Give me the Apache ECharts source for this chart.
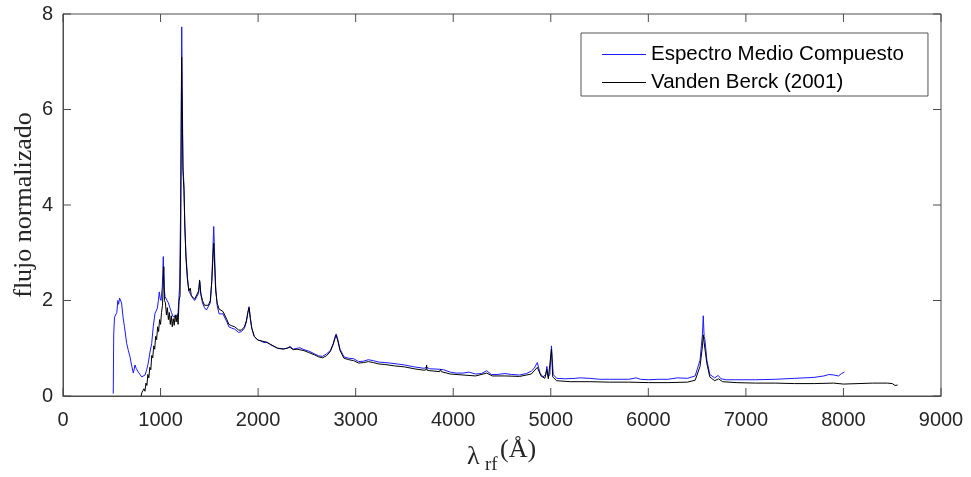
<!DOCTYPE html>
<html>
<head>
<meta charset="utf-8">
<script src="https://cdn.jsdelivr.net/npm/echarts@6/dist/echarts.min.js"></script>
<style>
  html, body { margin: 0; padding: 0; background: #fff; }
  #chart { width: 971px; height: 477px; }
</style>
</head>
<body>
<div id="chart"></div>
<script>
// Espectro Medio Compuesto (blue)
const lambdaEsp = [515, 520, 528, 540, 552, 562, 570, 580, 592, 600, 615, 630, 653, 670, 687, 705, 721, 730, 738, 750,
  769, 790, 807, 825, 841, 858, 874, 890, 909, 925, 943, 955, 967, 978, 987, 995, 1005, 1018, 1028, 1036,
  1046, 1055, 1063, 1080, 1097, 1112, 1128, 1145, 1165, 1180, 1195, 1205, 1212, 1217, 1222, 1230, 1240, 1248, 1260, 1275,
  1290, 1305, 1315, 1330, 1350, 1370, 1390, 1402, 1415, 1430, 1450, 1470, 1490, 1510, 1525, 1535, 1545, 1555, 1565, 1580,
  1600, 1620, 1640, 1660, 1680, 1700, 1730, 1760, 1800, 1830, 1860, 1880, 1895, 1907, 1920, 1935, 1960, 1990, 2020, 2060,
  2090, 2130, 2200, 2260, 2300, 2326, 2360, 2400, 2430, 2470, 2520, 2580, 2620, 2660, 2700, 2740, 2770, 2790, 2800, 2815,
  2840, 2880, 2930, 2980, 3030, 3080, 3130, 3180, 3240, 3300, 3350, 3430, 3500, 3600, 3700, 3727, 3760, 3860, 3869, 3900,
  3970, 4030, 4100, 4160, 4230, 4290, 4343, 4390, 4450, 4530, 4600, 4680, 4750, 4800, 4830, 4862, 4890, 4920, 4950, 4960,
  4975, 4990, 5007, 5025, 5060, 5150, 5250, 5300, 5400, 5500, 5600, 5700, 5800, 5876, 5920, 6000, 6100, 6200, 6300, 6320,
  6400, 6480, 6530, 6555, 6563, 6572, 6580, 6600, 6630, 6680, 6716, 6731, 6745, 6800, 6950, 7100, 7300, 7500, 7700, 7800,
  7850, 7900, 7950, 7980, 8010];
const fluxEsp = [0.05, 1.30, 1.65, 1.62, 1.75, 2.00, 1.92, 2.05, 2.08, 1.95, 1.66, 1.45, 1.10, 0.95, 0.82, 0.62, 0.48, 0.52, 0.65, 0.58,
  0.51, 0.45, 0.40, 0.42, 0.44, 0.55, 0.69, 0.90, 1.10, 1.45, 1.73, 1.78, 1.84, 2.00, 2.18, 2.05, 2.00, 2.30, 2.92, 2.30,
  2.08, 2.04, 2.05, 1.95, 1.84, 1.75, 1.66, 1.62, 1.66, 1.75, 2.30, 3.80, 6.00, 7.73, 6.50, 4.80, 4.42, 3.60, 3.00, 2.50,
  2.20, 2.18, 2.10, 2.05, 2.00, 1.98, 2.15, 2.40, 2.10, 1.95, 1.85, 1.80, 1.82, 1.95, 2.40, 3.00, 3.55, 2.90, 2.30, 1.90,
  1.72, 1.68, 1.72, 1.70, 1.55, 1.45, 1.42, 1.40, 1.33, 1.35, 1.42, 1.55, 1.75, 1.87, 1.65, 1.42, 1.25, 1.18, 1.16, 1.12,
  1.13, 1.07, 1.00, 0.99, 1.00, 1.04, 0.98, 1.00, 1.01, 0.97, 0.94, 0.88, 0.84, 0.83, 0.88, 0.95, 1.10, 1.25, 1.30, 1.20,
  0.98, 0.82, 0.79, 0.78, 0.72, 0.73, 0.76, 0.74, 0.71, 0.70, 0.69, 0.67, 0.65, 0.61, 0.58, 0.60, 0.57, 0.56, 0.58, 0.55,
  0.50, 0.48, 0.48, 0.50, 0.46, 0.47, 0.53, 0.45, 0.45, 0.47, 0.45, 0.44, 0.47, 0.52, 0.58, 0.70, 0.48, 0.40, 0.45, 0.62,
  0.40, 0.45, 1.05, 0.45, 0.37, 0.36, 0.37, 0.38, 0.37, 0.35, 0.35, 0.35, 0.35, 0.38, 0.35, 0.34, 0.35, 0.35, 0.38, 0.35,
  0.37, 0.42, 0.75, 1.30, 1.68, 1.25, 1.18, 0.75, 0.45, 0.38, 0.43, 0.45, 0.36, 0.34, 0.34, 0.34, 0.35, 0.37, 0.39, 0.42,
  0.45, 0.44, 0.42, 0.47, 0.50];

// Vanden Berck (2001) (black)
const lambdaVB = [800, 810, 820, 830, 840, 850, 860, 870, 880, 890, 900, 910, 920, 930, 940, 950, 960, 970, 980, 990,
  1000, 1010, 1020, 1025, 1033, 1040, 1050, 1060, 1070, 1080, 1090, 1100, 1110, 1120, 1130, 1140, 1150, 1160, 1170, 1180,
  1190, 1200, 1207, 1212, 1216, 1220, 1230, 1240, 1250, 1260, 1275, 1290, 1305, 1315, 1330, 1350, 1370, 1390, 1400, 1412,
  1430, 1450, 1470, 1490, 1510, 1525, 1535, 1545, 1555, 1565, 1580, 1600, 1620, 1640, 1660, 1680, 1700, 1730, 1760, 1800,
  1830, 1860, 1880, 1895, 1907, 1920, 1935, 1960, 2000, 2040, 2080, 2130, 2200, 2260, 2326, 2360, 2400, 2470, 2520, 2580,
  2620, 2660, 2700, 2740, 2770, 2790, 2800, 2815, 2840, 2880, 2930, 2980, 3030, 3080, 3130, 3180, 3240, 3300, 3400, 3500,
  3600, 3700, 3722, 3727, 3732, 3760, 3860, 3869, 3878, 3970, 4100, 4230, 4343, 4400, 4530, 4680, 4800, 4862, 4900, 4940,
  4959, 4975, 4995, 5007, 5020, 5060, 5200, 5400, 5600, 5800, 6000, 6200, 6400, 6480, 6530, 6555, 6563, 6572, 6583, 6600,
  6630, 6680, 6720, 6760, 6900, 7100, 7300, 7500, 7700, 7900, 8000, 8150, 8300, 8450, 8500, 8530, 8555];
const fluxVB = [0.00, 0.08, 0.04, 0.15, 0.10, 0.27, 0.22, 0.45, 0.38, 0.60, 0.55, 0.85, 0.80, 1.05, 0.98, 1.25, 1.18, 1.45, 1.35, 1.60,
  1.50, 1.75, 1.90, 2.20, 2.71, 2.00, 1.95, 1.70, 1.85, 1.60, 1.75, 1.50, 1.68, 1.45, 1.62, 1.48, 1.70, 1.55, 1.70, 1.50,
  2.00, 2.10, 3.50, 5.50, 7.10, 6.30, 4.70, 4.30, 3.50, 2.90, 2.45, 2.20, 2.26, 2.10, 2.08, 2.03, 2.01, 2.20, 2.43, 2.15,
  2.00, 1.90, 1.88, 1.90, 2.00, 2.40, 2.80, 3.20, 2.70, 2.20, 1.95, 1.82, 1.78, 1.77, 1.75, 1.60, 1.50, 1.47, 1.45, 1.38,
  1.38, 1.45, 1.58, 1.75, 1.85, 1.62, 1.42, 1.25, 1.17, 1.15, 1.13, 1.08, 1.00, 0.98, 1.02, 0.97, 0.98, 0.95, 0.91, 0.86,
  0.82, 0.80, 0.84, 0.93, 1.08, 1.22, 1.27, 1.17, 0.95, 0.79, 0.76, 0.74, 0.69, 0.70, 0.72, 0.70, 0.67, 0.66, 0.63, 0.61,
  0.57, 0.54, 0.55, 0.65, 0.54, 0.53, 0.51, 0.56, 0.51, 0.46, 0.44, 0.42, 0.48, 0.42, 0.42, 0.41, 0.46, 0.60, 0.42, 0.37,
  0.56, 0.36, 0.40, 0.98, 0.40, 0.32, 0.30, 0.30, 0.29, 0.29, 0.28, 0.28, 0.29, 0.33, 0.62, 1.05, 1.28, 1.12, 1.10, 0.68,
  0.40, 0.32, 0.36, 0.30, 0.28, 0.27, 0.27, 0.26, 0.26, 0.27, 0.25, 0.26, 0.27, 0.27, 0.26, 0.22, 0.23];

const xTicks = [0, 1000, 2000, 3000, 4000, 5000, 6000, 7000, 8000, 9000];
const yTicks = [0, 2, 4, 6, 8];

const zip = (xs, ys) => xs.map((x, i) => [x, ys[i]]);

const axisColor = '#4d4d4d';
const labelColor = '#262626';
const TICK_LEN = 8;
const serif = 'Liberation Serif, serif';

// inward tick marks on all four sides of the box (MATLAB style)
function renderTicks(params, api) {
  const v = api.value(0);
  const isX = api.value(1) === 0;
  const tickStyle = { stroke: axisColor, lineWidth: 1 };
  let a, b;
  if (isX) {
    a = api.coord([v, 0]);
    b = api.coord([v, 8]);
    return {
      type: 'group',
      children: [
        { type: 'line', shape: { x1: a[0], y1: a[1], x2: a[0], y2: a[1] - TICK_LEN }, style: tickStyle },
        { type: 'line', shape: { x1: b[0], y1: b[1], x2: b[0], y2: b[1] + TICK_LEN }, style: tickStyle }
      ]
    };
  }
  a = api.coord([0, v]);
  b = api.coord([9000, v]);
  return {
    type: 'group',
    children: [
      { type: 'line', shape: { x1: a[0], y1: a[1], x2: a[0] + TICK_LEN, y2: a[1] }, style: tickStyle },
      { type: 'line', shape: { x1: b[0], y1: b[1], x2: b[0] - TICK_LEN, y2: b[1] }, style: tickStyle }
    ]
  };
}

const chart = echarts.init(document.getElementById('chart'));

const option = {
  animation: false,
  backgroundColor: '#fff',
  grid: {
    left: 63,
    top: 14,
    right: 30,
    bottom: 81,
    containLabel: false,
    outerBoundsMode: 'none',
    show: true,
    borderColor: axisColor,
    borderWidth: 1
  },
  // x axis title with a real subscript: λ_rf (Å)
  graphic: [
    { type: 'text', left: 467, top: 444, style: { text: 'λ', font: '26px ' + serif, fill: labelColor } },
    { type: 'text', left: 485, top: 456, style: { text: 'rf', font: '19px ' + serif, fill: labelColor } },
    { type: 'text', left: 500, top: 437, style: { text: '(Å)', font: '26px ' + serif, fill: labelColor } }
  ],
  legend: {
    orient: 'vertical',
    left: 581,
    top: 33,
    padding: [11, 24, 3, 21],
    itemGap: 7,
    itemWidth: 44,
    itemHeight: 1,
    icon: 'rect',
    borderColor: '#555',
    borderWidth: 1,
    backgroundColor: '#fff',
    textStyle: {
      fontFamily: 'Liberation Sans, Arial, sans-serif',
      fontSize: 20.5,
      lineHeight: 20,
      color: '#000'
    },
    data: ['Espectro Medio Compuesto', 'Vanden Berck (2001)']
  },
  xAxis: {
    type: 'value',
    min: 0,
    max: 9000,
    interval: 1000,
    position: 'bottom',
    axisLine: { show: true, lineStyle: { color: axisColor } },
    axisTick: { show: false },
    axisLabel: {
      color: labelColor,
      fontFamily: 'Liberation Sans, Arial, sans-serif',
      fontSize: 20,
      margin: 14,
      formatter: v => xTicks.includes(v) ? String(v) : ''
    },
    splitLine: { show: false }
  },
  yAxis: {
    type: 'value',
    min: 0,
    max: 8,
    interval: 2,
    position: 'left',
    axisLine: { show: true, lineStyle: { color: axisColor } },
    axisTick: { show: false },
    axisLabel: {
      color: labelColor,
      fontFamily: 'Liberation Sans, Arial, sans-serif',
      fontSize: 20,
      margin: 10,
      formatter: v => yTicks.includes(v) ? String(v) : ''
    },
    splitLine: { show: false },
    name: 'flujo normalizado',
    nameLocation: 'middle',
    nameRotate: 90,
    nameGap: 26,
    nameMoveOverlap: false,
    nameTextStyle: {
      fontFamily: serif,
      fontSize: 26,
      color: labelColor
    }
  },
  series: [{
    name: 'ticks',
    type: 'custom',
    silent: true,
    clip: false,
    renderItem: renderTicks,
    data: xTicks.map(v => [v, 0]).concat(yTicks.map(v => [v, 1]))
  }, {
    name: 'Espectro Medio Compuesto',
    type: 'line',
    symbol: 'none',
    lineStyle: { color: '#1a1aff', width: 1 },
    itemStyle: { color: '#1a1aff' },
    data: zip(lambdaEsp, fluxEsp)
  }, {
    name: 'Vanden Berck (2001)',
    type: 'line',
    symbol: 'none',
    lineStyle: { color: '#000', width: 1 },
    itemStyle: { color: '#000' },
    data: zip(lambdaVB, fluxVB)
  }]
};

chart.setOption(option);
</script>
</body>
</html>
